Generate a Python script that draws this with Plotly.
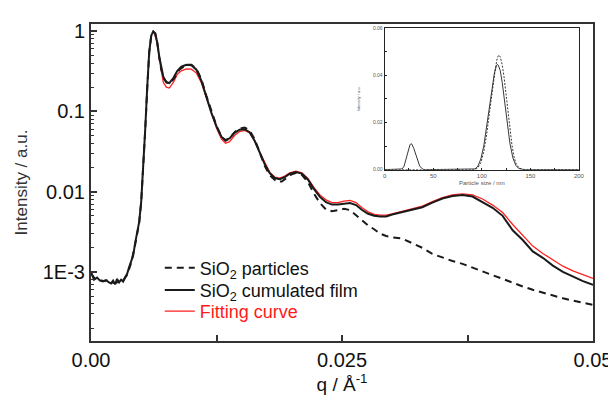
import plotly.graph_objects as go

# ---------------- main SAXS data ----------------
q_film = [0.0000, 0.0003, 0.0006, 0.0009, 0.0012, 0.0015, 0.0018, 0.0020, 0.0022, 0.0024,
          0.0026, 0.0028, 0.0030, 0.0032, 0.0034, 0.0036, 0.0038, 0.0040, 0.0042, 0.0044,
          0.0046, 0.0048, 0.0050, 0.0052, 0.0054, 0.0056, 0.0058, 0.0060, 0.0062, 0.0064,
          0.0066, 0.0068, 0.0070, 0.0072, 0.0075, 0.0078, 0.0082, 0.0086, 0.0090, 0.0095,
          0.0100, 0.0105, 0.0110, 0.0115, 0.0120, 0.0125, 0.0130, 0.0134, 0.0138, 0.0143,
          0.0148, 0.0153, 0.0158, 0.0163, 0.0168, 0.0173, 0.0178, 0.0183, 0.0188, 0.0193,
          0.0198, 0.0204, 0.0210, 0.0216, 0.0222, 0.0228, 0.0234, 0.0240, 0.0246, 0.0252,
          0.0258, 0.0264, 0.0270, 0.0276, 0.0282, 0.0288, 0.0294, 0.0300, 0.0310, 0.0320,
          0.0330, 0.0340, 0.0350, 0.0360, 0.0370, 0.0380, 0.0390, 0.0400, 0.0410, 0.0420,
          0.0430, 0.0440, 0.0450, 0.0460, 0.0470, 0.0480, 0.0490, 0.0500]
i_film = [0.00100, 0.00080, 0.00085, 0.00078, 0.00076, 0.00079, 0.00074, 0.00072, 0.00078, 0.00070,
          0.00082, 0.00074, 0.00080, 0.00076, 0.00086, 0.00095, 0.00115, 0.00135, 0.00160, 0.0023,
          0.0030, 0.0042, 0.0075, 0.019, 0.060, 0.20, 0.55, 0.88, 0.99, 0.93,
          0.72, 0.48, 0.34, 0.27, 0.23, 0.225, 0.26, 0.32, 0.36, 0.38,
          0.375, 0.33, 0.24, 0.15, 0.095, 0.065, 0.048, 0.044, 0.046, 0.054,
          0.059, 0.060, 0.055, 0.043, 0.031, 0.022, 0.017, 0.0148, 0.0143, 0.0152,
          0.0167, 0.0176, 0.0168, 0.0142, 0.0108, 0.0086, 0.0074, 0.0069, 0.0069, 0.0071,
          0.0072, 0.0068, 0.0059, 0.0053, 0.0050, 0.0049, 0.0049, 0.0052, 0.0056, 0.0060,
          0.0064, 0.0073, 0.0082, 0.0088, 0.0091, 0.0087, 0.0074, 0.0063, 0.0050, 0.0033,
          0.0025, 0.0018, 0.0015, 0.0012, 0.00100, 0.00087, 0.00077, 0.00069]

q_part = [0.0000, 0.0004, 0.0008, 0.0012, 0.0016, 0.0020, 0.0024, 0.0028, 0.0032, 0.0036,
          0.0040, 0.0044, 0.0048, 0.0050, 0.0052, 0.0054, 0.0056, 0.0058, 0.0060, 0.0062,
          0.0064, 0.0066, 0.0068, 0.0070, 0.0073, 0.0077, 0.0082, 0.0088, 0.0095, 0.0100,
          0.0105, 0.0110, 0.0115, 0.0120, 0.0125, 0.0130, 0.0134, 0.0138, 0.0143, 0.0148,
          0.0153, 0.0158, 0.0163, 0.0168, 0.0173, 0.0178, 0.0185, 0.0190, 0.0195, 0.0200,
          0.0205, 0.0210, 0.0216, 0.0222, 0.0228, 0.0234, 0.0240, 0.0246, 0.0252, 0.0258,
          0.0264, 0.0270, 0.0276, 0.0282, 0.0288, 0.0294, 0.0300, 0.0310, 0.0320, 0.0330,
          0.0340, 0.0350, 0.0360, 0.0370, 0.0380, 0.0390, 0.0400, 0.0410, 0.0420, 0.0430,
          0.0440, 0.0450, 0.0460, 0.0470, 0.0480, 0.0490, 0.0500]
i_part = [0.00095, 0.00082, 0.00080, 0.00077, 0.00078, 0.00074, 0.00073, 0.00076, 0.00078, 0.00092,
          0.00130, 0.0022, 0.0041, 0.0074, 0.018, 0.058, 0.19, 0.54, 0.87, 0.98,
          0.93, 0.71, 0.47, 0.33, 0.25, 0.22, 0.25, 0.33, 0.38, 0.38,
          0.34, 0.25, 0.155, 0.098, 0.066, 0.048, 0.043, 0.046, 0.055, 0.061,
          0.063, 0.058, 0.045, 0.031, 0.021, 0.016, 0.0133, 0.0134, 0.0150, 0.0165,
          0.0172, 0.0162, 0.0132, 0.0095, 0.0072, 0.0060, 0.0057, 0.0059, 0.0061, 0.0059,
          0.0051, 0.0043, 0.0038, 0.0034, 0.0030, 0.0028, 0.0027, 0.0026, 0.0023, 0.0020,
          0.00168, 0.00150, 0.00137, 0.00126, 0.00113, 0.00100, 0.00090, 0.00081, 0.00073, 0.00066,
          0.00060, 0.00055, 0.00051, 0.00047, 0.00044, 0.00041, 0.00039]

q_fit = [0.0063, 0.0066, 0.0068, 0.0070, 0.0072, 0.0075, 0.0078, 0.0082, 0.0086, 0.0090,
         0.0095, 0.0100, 0.0105, 0.0110, 0.0115, 0.0120, 0.0125, 0.0130, 0.0134, 0.0138,
         0.0143, 0.0148, 0.0153, 0.0158, 0.0163, 0.0168, 0.0173, 0.0178, 0.0183, 0.0188,
         0.0193, 0.0198, 0.0204, 0.0210, 0.0216, 0.0222, 0.0228, 0.0234, 0.0240, 0.0246,
         0.0252, 0.0258, 0.0264, 0.0270, 0.0276, 0.0282, 0.0288, 0.0294, 0.0300, 0.0310,
         0.0320, 0.0330, 0.0340, 0.0350, 0.0360, 0.0370, 0.0380, 0.0390, 0.0400, 0.0410,
         0.0420, 0.0430, 0.0440, 0.0450, 0.0460, 0.0470, 0.0480, 0.0490, 0.0500]
i_fit = [0.97, 0.70, 0.45, 0.30, 0.23, 0.20, 0.195, 0.23, 0.29, 0.32,
         0.337, 0.335, 0.30, 0.225, 0.145, 0.090, 0.062, 0.045, 0.040, 0.042,
         0.050, 0.056, 0.058, 0.054, 0.043, 0.031, 0.023, 0.0175, 0.0152, 0.0147,
         0.0156, 0.0171, 0.0180, 0.0172, 0.0146, 0.0113, 0.0091, 0.0079, 0.0073, 0.0073,
         0.0076, 0.0078, 0.0073, 0.0063, 0.0056, 0.0052, 0.0051, 0.0051, 0.0053, 0.0057,
         0.0061, 0.0066, 0.0075, 0.0084, 0.0091, 0.0094, 0.0091, 0.0081, 0.0068, 0.0055,
         0.0039, 0.0029, 0.0021, 0.0017, 0.0014, 0.00118, 0.00103, 0.00092, 0.00083]

# ---------------- inset: size distribution ----------------
size_film = [0, 15, 18, 20, 22, 24, 26, 27, 28, 30, 32, 34, 36, 38, 40, 42, 90, 93, 96, 99,
             102, 105, 108, 111, 113, 115, 116, 117, 119, 121, 123, 126, 129, 132, 135, 138,
             141, 144, 200]
dist_film = [0, 0, 0.0003, 0.0015, 0.0045, 0.0080, 0.0105, 0.0110, 0.0108, 0.0090, 0.0062,
             0.0035, 0.0016, 0.0006, 0.0001, 0, 0, 0.0003, 0.0015, 0.0045, 0.0100, 0.0180,
             0.0270, 0.0360, 0.0410, 0.0440, 0.0446, 0.0443, 0.0420, 0.0370, 0.0300, 0.0200,
             0.0110, 0.0050, 0.0018, 0.0005, 0.0001, 0, 0]
size_part = [0, 93, 96, 99, 102, 105, 108, 111, 114, 116, 117.5, 119, 121, 123, 125, 127, 129,
             131, 133, 135, 138, 141, 145, 200]
dist_part = [0, 0, 0.0008, 0.0030, 0.0075, 0.0150, 0.0245, 0.0345, 0.0430, 0.0475, 0.0486,
             0.0478, 0.0445, 0.0390, 0.0320, 0.0245, 0.0170, 0.0105, 0.0058, 0.0028, 0.0009,
             0.0002, 0, 0]

y_tickvals = [1e-3, 1e-2, 1e-1, 1]
y_ticktext = ["1E-3", "0.01", "0.1", "1"]
x_tickvals = [0, 0.025, 0.05]
x_ticktext = ["0.00", "0.025", "0.05"]
inset_xticks = [0, 50, 100, 150, 200]
inset_yticks = [0.0, 0.02, 0.04, 0.06]
inset_ytext = ["0.00", "0.02", "0.04", "0.06"]

FONT = "Liberation Sans, Arial, sans-serif"
AX = "#333333"

fig = go.Figure()
fig.add_trace(go.Scatter(x=q_fit, y=i_fit, mode="lines", name="Fitting curve", legend="legend3",
                         line=dict(color="#ff2020", width=1.3)))
fig.add_trace(go.Scatter(x=q_part, y=i_part, mode="lines", name="SiO<sub>2</sub> particles", legend="legend",
                         line=dict(color="#1a1a1a", width=2, dash="7px,5px")))
fig.add_trace(go.Scatter(x=q_film, y=i_film, mode="lines", name="SiO<sub>2</sub> cumulated film", legend="legend2",
                         line=dict(color="#1a1a1a", width=2)))

fig.add_trace(go.Scatter(x=size_part, y=dist_part, mode="lines", xaxis="x2", yaxis="y2",
                         line=dict(color="#222", width=0.9, dash="2px,1.5px"), showlegend=False))
fig.add_trace(go.Scatter(x=size_film, y=dist_film, mode="lines", xaxis="x2", yaxis="y2",
                         line=dict(color="#222", width=0.9), showlegend=False))

minor_y = [m * 10 ** e for e in range(-4, 1) for m in range(2, 10)]

def leg(y, color):
    return dict(x=0.137, y=y, xanchor="left", yanchor="top", bgcolor="rgba(0,0,0,0)",
                font=dict(size=18, family=FONT, color=color), itemwidth=30)

fig.update_layout(
    width=616, height=396,
    margin=dict(l=81, r=29, t=13, b=54),
    paper_bgcolor="white", plot_bgcolor="white",
    font=dict(family=FONT, color="#1a1a1a"),
    showlegend=True,
    legend=leg(0.2885, "#111"),
    legend2=leg(0.2186, "#111"),
    legend3=leg(0.1518, "#ff1a1a"),
    xaxis=dict(range=[0, 0.05], tickvals=x_tickvals, ticktext=x_ticktext,
               ticks="inside", ticklen=6, tickwidth=1.5, tickcolor=AX,
               minor=dict(tickvals=[0.0125, 0.0375], ticks="inside", ticklen=6, tickwidth=1.5, tickcolor=AX),
               showline=True, linecolor=AX, linewidth=2, mirror=True, showgrid=False, zeroline=False,
               tickfont=dict(size=20, family=FONT, color="#111"),
               title=dict(text="q / Å<sup>-1</sup>", font=dict(size=19, family=FONT, color="#111"), standoff=8)),
    yaxis=dict(type="log", range=[-3.86, 0.088], tickvals=y_tickvals, ticktext=y_ticktext,
               ticks="inside", ticklen=6, tickwidth=1.5, tickcolor=AX,
               minor=dict(tickvals=minor_y, ticks="inside", ticklen=3, tickwidth=1, tickcolor=AX),
               showline=True, linecolor=AX, linewidth=2, mirror=True, showgrid=False, zeroline=False,
               tickfont=dict(size=20, family=FONT, color="#111"),
               title=dict(text="Intensity / a.u.", font=dict(size=17, family=FONT, color="#333"), standoff=11)),
    xaxis2=dict(domain=[0.585, 0.972], anchor="y2", range=[0, 200], tickvals=inset_xticks,
                ticks="inside", ticklen=2, tickcolor="#222", tickwidth=1,
                minor=dict(tickvals=[25, 75, 125, 175], ticks="inside", ticklen=2, tickcolor="#222"),
                showline=True, linecolor="#222", linewidth=1, mirror=True, showgrid=False, zeroline=False,
                tickfont=dict(size=6, family=FONT, color="#555"),
                title=dict(text="Particle size / nm", font=dict(size=6, family=FONT, color="#555"), standoff=2)),
    yaxis2=dict(domain=[0.5405, 0.987], anchor="x2", range=[0, 0.06], tickvals=inset_yticks, ticktext=inset_ytext,
                ticks="inside", ticklen=2, tickcolor="#222", tickwidth=1,
                minor=dict(tickvals=[0.01, 0.03, 0.05], ticks="inside", ticklen=2, tickcolor="#222"),
                showline=True, linecolor="#222", linewidth=1, mirror=True, showgrid=False, zeroline=False,
                tickfont=dict(size=5, family=FONT, color="#555"),
                title=dict(text="Intensity / a.u.", font=dict(size=4, family=FONT, color="#555"), standoff=12)),
)

fig.write_html("out.html")
